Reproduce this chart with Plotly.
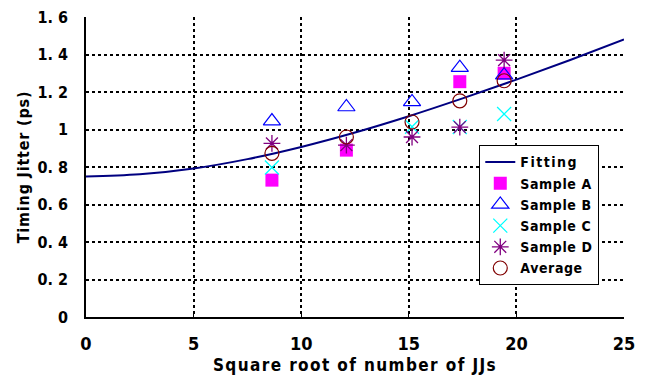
import plotly.graph_objects as go

# Data
fit_x = [0, 2.5, 5, 7.5, 10, 12.5, 15, 17.5, 20, 22.5, 25]
fit_y = [0.75, 0.761, 0.792, 0.842, 0.907, 0.984, 1.071, 1.166, 1.266, 1.371, 1.48]

sample_x = [8.64, 12.1, 15.15, 17.37, 19.43]
sample_a = [0.73, 0.89, None, 1.255, 1.30]
sample_b = [1.045, 1.12, 1.147, 1.33, 1.29]
sample_c = [0.797, None, 1.015, 1.013, 1.083]
sample_d = [0.926, 0.917, 0.96, 1.013, 1.37]
average = [0.873, 0.96, 1.04, 1.153, 1.26]

series_names = ["Fitting", "Sample A", "Sample B", "Sample C", "Sample D", "Average"]
y_ticks = [0, 0.2, 0.4, 0.6, 0.8, 1.0, 1.2, 1.4, 1.6]
y_tick_labels = ["0", "0. 2", "0. 4", "0. 6", "0. 8", "1", "1. 2", "1. 4", "1. 6"]
x_ticks = [0, 5, 10, 15, 20, 25]
x_title = "Square root of number of JJs"
y_title = "Timing Jitter (ps)"

FONT = "DejaVu Sans Condensed, Liberation Sans Narrow, Liberation Sans, sans-serif"


def spaced(text, px):
    return '<span style="letter-spacing:%spx">%s</span>' % (px, text)


LS = 0.6
fig = go.Figure()
fig.add_trace(go.Scatter(x=fit_x, y=fit_y, mode="lines", name=spaced(series_names[0], 1.5),
                         line=dict(color="#000080", width=2, shape="spline")))
fig.add_trace(go.Scatter(x=sample_x, y=sample_a, mode="markers", name=spaced(series_names[1], LS),
                         marker=dict(symbol="square", color="#FF00FF", size=13)))
fig.add_trace(go.Scatter(x=sample_x, y=sample_b, mode="markers", name=spaced(series_names[2], LS),
                         marker=dict(symbol="triangle-up-open", color="#0000FF", size=15,
                                     line=dict(width=1.2, color="#0000FF"))))
fig.add_trace(go.Scatter(x=sample_x, y=sample_c, mode="markers", name=spaced(series_names[3], LS),
                         marker=dict(symbol="x-thin-open", color="#00FFFF", size=14,
                                     line=dict(width=1.3, color="#00FFFF"))))
fig.add_trace(go.Scatter(x=sample_x, y=sample_d, mode="markers", name=spaced(series_names[4], LS),
                         marker=dict(symbol="asterisk-open", color="#800080", size=14,
                                     line=dict(width=1.3, color="#800080"))))
fig.add_trace(go.Scatter(x=sample_x, y=average, mode="markers", name=spaced(series_names[5], LS),
                         marker=dict(symbol="circle-open", color="#800000", size=14,
                                     line=dict(width=1.2, color="#800000"))))

fig.update_layout(
    width=651, height=378,
    margin=dict(l=86, r=27, t=17, b=61),
    paper_bgcolor="white", plot_bgcolor="white",
    font=dict(family=FONT, size=16, color="black"),
    showlegend=True,
    legend=dict(x=0.731, y=0.572, xanchor="left", yanchor="top",
                bgcolor="white", bordercolor="black", borderwidth=1,
                font=dict(family=FONT, size=14, color="black", weight="bold"),
                tracegroupgap=0, itemwidth=30),
    xaxis=dict(range=[0, 25], tickvals=x_ticks, showline=True, linecolor="black",
               linewidth=1.5, showgrid=True, gridcolor="black", griddash="dot",
               gridwidth=1.5, zeroline=False, ticks="inside", ticklen=3,
               tickcolor="black", ticklabelstandoff=10, automargin=False,
               tickfont=dict(family=FONT, size=18, weight="bold"),
               title=dict(text=spaced(x_title, 1.4),
                          font=dict(family=FONT, size=17, weight="bold"), standoff=6)),
    yaxis=dict(range=[0, 1.6], tickvals=y_ticks, ticktext=y_tick_labels,
               showline=True, linecolor="black", linewidth=1.5, showgrid=True,
               gridcolor="black", griddash="dot", gridwidth=1.5, zeroline=False,
               ticks="", ticklabelstandoff=13, automargin=False,
               tickfont=dict(family=FONT, size=16, weight="bold"),
               title=dict(text=spaced(y_title, 0.8),
                          font=dict(family=FONT, size=16, weight="bold"), standoff=4)),
)

fig.write_html("out.html")
